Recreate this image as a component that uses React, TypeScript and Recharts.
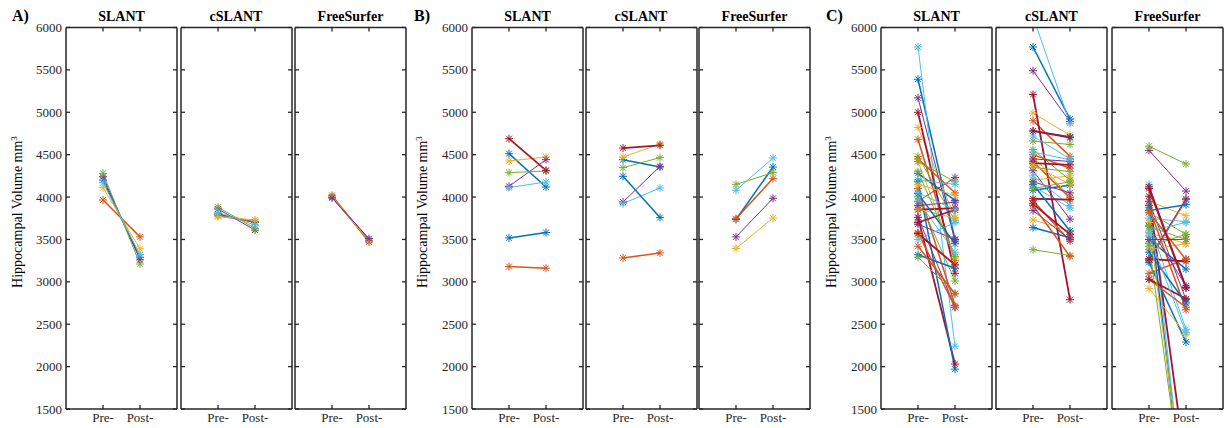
import React from 'react';
import { LineChart, Line, XAxis, YAxis } from 'recharts';

// ---------- data ----------
const COLORS = ['#0072BD', '#D95319', '#EDB120', '#7E2F8E', '#77AC30', '#4DBEEE', '#A2142F'];
const Y_TICKS = [1500, 2000, 2500, 3000, 3500, 4000, 4500, 5000, 5500, 6000];
const X_TICKS = [1, 2];
const X_LABELS: Record<number, string> = { 1: 'Pre-', 2: 'Post-' };
const METHODS = ['SLANT', 'cSLANT', 'FreeSurfer'];
const PANEL_LETTERS = ['A)', 'B)', 'C)'];
const Y_LABEL = 'Hippocampal Volume mm';

// Panel A
const A_SLANT_PRE = [4200, 3965, 4110, 4240, 4280, 4170];
const A_SLANT_POST = [3290, 3530, 3390, 3260, 3210, 3320];
const A_CSLANT_PRE = [3800, 3780, 3770, 3860, 3880, 3820];
const A_CSLANT_POST = [3700, 3710, 3730, 3610, 3630, 3670];
const A_FS_PRE = [4000, 4020, 4010, 3990];
const A_FS_POST = [3490, 3470, 3480, 3510];

// Panel B
const B_SLANT_PRE = [4512, 3181, 4425, 4127, 4288, 4111, 4689, 3518];
const B_SLANT_POST = [4119, 3161, 4472, 4441, 4307, 4178, 4315, 3581];
const B_CSLANT_PRE = [4441, 3282, 4472, 3942, 4347, 3923, 4578, 4245];
const B_CSLANT_POST = [4354, 3341, 4625, 4362, 4465, 4107, 4610, 3758];
const B_FS_PRE = [3735, 3746, 3393, 3530, 4150, 4080];
const B_FS_POST = [4354, 4218, 3753, 3985, 4288, 4461];

// Panel C
const C_SLANT_PRE = [5390, 4680, 4820, 5170, 4480, 5770, 5000, 4280, 4450, 4420, 3950, 4420, 4200, 3760, 4180, 4100, 4150, 3760, 4000, 3950, 3850, 3320, 3580, 3860, 3680, 3290, 3500, 3700, 4040, 3420, 3560, 3900, 4300, 4050, 3570];
const C_SLANT_POST = [3500, 3250, 3760, 3480, 3720, 2240, 3100, 3960, 4050, 3280, 4230, 4180, 4150, 2030, 1970, 2720, 4020, 2700, 3010, 3350, 3870, 3160, 2700, 3750, 3500, 2860, 3700, 3850, 3450, 2860, 3200, 3940, 3300, 3850, 3200];
const C_CSLANT_PRE = [5770, 4900, 4990, 5490, 4660, 6130, 5210, 4780, 4500, 4200, 4310, 4560, 4720, 4780, 4080, 4420, 4480, 4180, 4350, 4250, 4400, 3640, 3960, 3730, 3840, 3380, 4130, 3980, 4150, 3900, 4380, 4450, 4100, 4530, 3920];
const C_CSLANT_POST = [4920, 4480, 4730, 4890, 4620, 4870, 2790, 4710, 4340, 4250, 3740, 4200, 4450, 4700, 4140, 3990, 4000, 4050, 4300, 3900, 4380, 3520, 3480, 3600, 3500, 3310, 3870, 3970, 3600, 3300, 4150, 4420, 4180, 4440, 3560];
const C_FS_PRE = [3500, 3250, 3950, 4550, 4600, 4150, 4120, 3840, 3100, 3580, 3950, 3820, 3750, 4010, 3230, 3880, 2920, 3270, 3420, 3700, 3270, 3900, 3030, 3380, 3660, 3450, 3600, 3030, 3350, 3820, 3700, 3500, 3650, 3550, 4100];
const C_FS_POST = [3150, 3970, 3780, 4070, 4390, 200, 2930, 3910, 3270, 3450, 2790, 3560, 3710, 800, 2290, 2670, 2380, 3980, 3560, 2440, 3240, 150, 2700, 3450, 2950, 250, 3700, 2800, 2750, 3260, 300, 3500, 3500, 2400, 2930];

const PANELS = [
  [[A_SLANT_PRE, A_SLANT_POST], [A_CSLANT_PRE, A_CSLANT_POST], [A_FS_PRE, A_FS_POST]],
  [[B_SLANT_PRE, B_SLANT_POST], [B_CSLANT_PRE, B_CSLANT_POST], [B_FS_PRE, B_FS_POST]],
  [[C_SLANT_PRE, C_SLANT_POST], [C_CSLANT_PRE, C_CSLANT_POST], [C_FS_PRE, C_FS_POST]],
];

// ---------- layout ----------
const PLOT_LEFTS = [[66, 180.5, 295], [472, 585.5, 699], [881, 996, 1112]];
const YLABEL_X = [22, 427, 836];
const LETTER_X = [12, 414, 826];
const W = 111;
const TOP = 27.5;
const BOTTOM = 409;
const H = 428;
const FONT = "'Liberation Serif', 'Times New Roman', serif";
const FRAME = '#262626';
const LINE_W = [1.5, 1.5, 1, 1, 1, 1, 1.8];

function StarDot({ cx, cy, color }: { cx: number; cy: number; color: string }) {
  if (cx == null || cy == null || isNaN(cx) || isNaN(cy)) return <g />;
  const r = 4;
  const d = 2.9;
  return (
    <g stroke={color} strokeWidth={1} fill="none">
      <line x1={cx - r} y1={cy} x2={cx + r} y2={cy} />
      <line x1={cx} y1={cy - r} x2={cx} y2={cy + r} />
      <line x1={cx - d} y1={cy - d} x2={cx + d} y2={cy + d} />
      <line x1={cx - d} y1={cy + d} x2={cx + d} y2={cy - d} />
    </g>
  );
}

function Sub({ left, pre, post, showY }: { left: number; pre: number[]; post: number[]; showY: boolean }) {
  const padL = showY ? 50 : 3;
  const padR = 3;
  const rows: any[] = [{ x: 1 }, { x: 2 }];
  pre.forEach((v, i) => {
    rows[0]['s' + i] = v;
    rows[1]['s' + i] = post[i];
  });
  const plotL = padL;
  const plotR = padL + W;
  const axisLine = { stroke: FRAME, strokeWidth: 1.5 };

  const leftTick = (p: any) => (
    <g>
      <line x1={plotL} x2={plotL + 4} y1={p.y} y2={p.y} stroke={FRAME} strokeWidth={1.3} />
      {showY && (
        <text x={plotL - 4} y={p.y} dy="0.35em" textAnchor="end" fontSize={13} fontFamily={FONT} fill="#262626">
          {p.payload.value}
        </text>
      )}
    </g>
  );
  const rightTick = (p: any) => (
    <line x1={plotR - 4} x2={plotR} y1={p.y} y2={p.y} stroke={FRAME} strokeWidth={1.3} />
  );
  const topTick = (p: any) => (
    <line x1={p.x} x2={p.x} y1={TOP} y2={TOP + 4} stroke={FRAME} strokeWidth={1.3} />
  );
  const bottomTick = (p: any) => (
    <g>
      <line x1={p.x} x2={p.x} y1={BOTTOM - 4} y2={BOTTOM} stroke={FRAME} strokeWidth={1.3} />
      <text x={p.x} y={422} textAnchor="middle" fontSize={13} fontFamily={FONT} fill="#262626">
        {X_LABELS[p.payload.value]}
      </text>
    </g>
  );

  return (
    <div style={{ position: 'absolute', left: left - padL, top: 0 }}>
      <LineChart width={padL + W + padR} height={H} data={rows} margin={{ top: TOP - 1, right: 0, bottom: 0, left: 0 }}>
        <XAxis dataKey="x" type="number" domain={[0, 3]} ticks={X_TICKS} interval={0} height={H - BOTTOM}
          axisLine={axisLine} tickLine={false} tick={bottomTick} allowDataOverflow />
        <XAxis xAxisId="t" orientation="top" dataKey="x" type="number" domain={[0, 3]} ticks={X_TICKS} interval={0}
          height={1} axisLine={axisLine} tickLine={false} tick={topTick} allowDataOverflow />
        <YAxis type="number" domain={[1500, 6000]} ticks={Y_TICKS} interval={0} width={padL}
          axisLine={axisLine} tickLine={false} tick={leftTick} allowDataOverflow />
        <YAxis yAxisId="r" orientation="right" type="number" domain={[1500, 6000]} ticks={Y_TICKS} interval={0}
          width={padR} axisLine={axisLine} tickLine={false} tick={rightTick} allowDataOverflow />
        {pre.map((_, i) => {
          const c = COLORS[i % 7];
          return (
            <Line key={i} type="linear" dataKey={'s' + i} stroke={c} strokeWidth={LINE_W[i % 7]}
              isAnimationActive={false} activeDot={false}
              dot={(p: any) => <StarDot key={'d' + i + '-' + p.index} cx={p.cx} cy={p.cy} color={c} />} />
          );
        })}
      </LineChart>
    </div>
  );
}

export default function App() {
  return (
    <div style={{ position: 'fixed', left: 0, top: 0, width: 1224, height: H, background: '#fff', overflow: 'hidden' }}>
      {PANELS.map((panel, pi) =>
        panel.map(([pre, post], mi) => (
          <Sub key={pi + '-' + mi} left={PLOT_LEFTS[pi][mi]} pre={pre} post={post} showY={mi === 0} />
        ))
      )}
      <svg width={1224} height={H} style={{ position: 'absolute', left: 0, top: 0, pointerEvents: 'none' }}>
        {PANEL_LETTERS.map((l, pi) => (
          <text key={l} x={LETTER_X[pi]} y={21} fontSize={16} fontWeight="bold" fontFamily={FONT} fill="#000">{l}</text>
        ))}
        {PANELS.map((_, pi) =>
          METHODS.map((m, mi) => (
            <text key={pi + m} x={PLOT_LEFTS[pi][mi] + W / 2} y={21} textAnchor="middle" fontSize={14}
              fontWeight="bold" fontFamily={FONT} fill="#000">{m}</text>
          ))
        )}
        {YLABEL_X.map((x, pi) => (
          <text key={'yl' + pi} x={x} y={212} transform={`rotate(-90 ${x} 212)`} textAnchor="middle" fontSize={14}
            fontFamily={FONT} fill="#000">
            {Y_LABEL}
            <tspan dy={-5} fontSize={9}>3</tspan>
          </text>
        ))}
      </svg>
    </div>
  );
}
